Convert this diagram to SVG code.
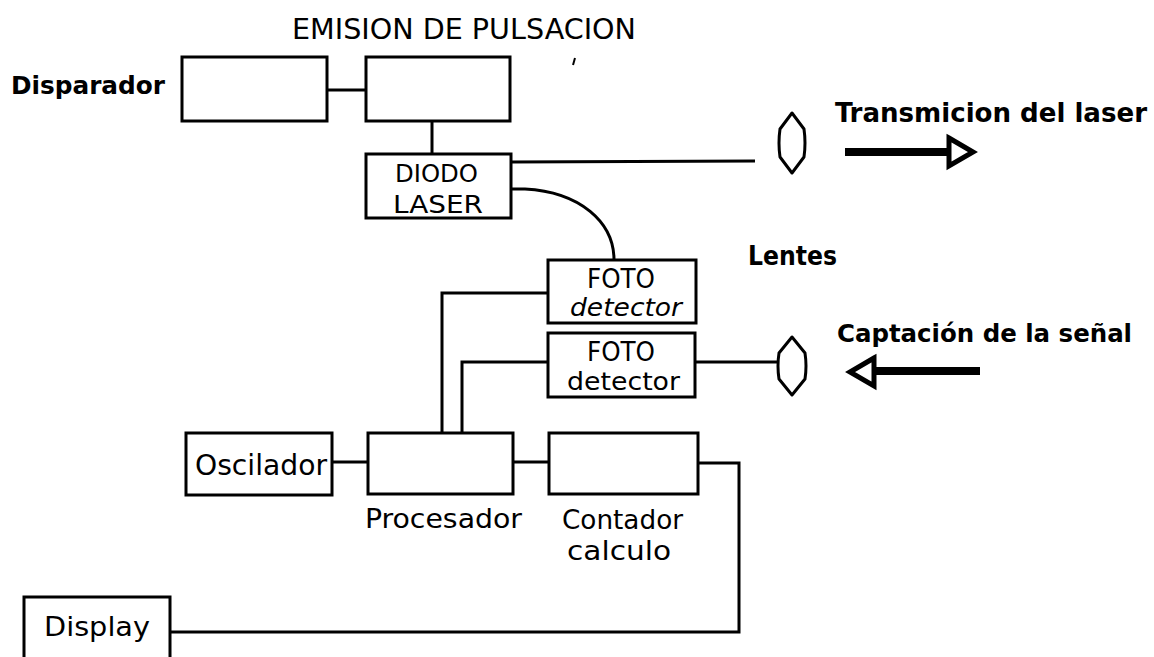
<svg xmlns="http://www.w3.org/2000/svg" width="1154" height="657" viewBox="0 0 1154 657">
<style>
.box{fill:#fff;stroke:#000;stroke-width:3}
.ln{fill:none;stroke:#000;stroke-width:3}
.t{font-family:"DejaVu Sans Condensed","DejaVu Sans",sans-serif;fill:#000}
.b{font-weight:bold}
.lens{fill:#fff;stroke:#000;stroke-width:3;stroke-linejoin:round}
.head{fill:#fff;stroke:#000;stroke-width:5;stroke-linejoin:miter}
</style>
<rect width="1154" height="657" fill="#fff"/>
<text class="t" x="292" y="39" font-size="28" textLength="344" lengthAdjust="spacingAndGlyphs">EMISION DE PULSACION</text>
<line x1="575" y1="58" x2="573" y2="65" stroke="#000" stroke-width="2"/>
<g id="connectors">
<line class="ln" x1="327" y1="90" x2="366" y2="90"/>
<line class="ln" x1="432" y1="121" x2="432" y2="154"/>
<line class="ln" x1="511" y1="162" x2="755" y2="161"/>
<path class="ln" d="M511 189 L525 189 C580 192 614 222 614 260"/>
<polyline class="ln" points="548,293 442,293 442,433"/>
<polyline class="ln" points="548,362 462,362 462,433"/>
<line class="ln" x1="695" y1="362" x2="777" y2="362"/>
<line class="ln" x1="332" y1="462" x2="368" y2="462"/>
<line class="ln" x1="513" y1="462" x2="549" y2="462"/>
<polyline class="ln" points="698,463 739,463 739,632 170,632"/>
</g>
<g id="disparador">
<rect class="box" x="182" y="57" width="145" height="64"/>
<text class="t b" x="11" y="94" font-size="24" textLength="154" lengthAdjust="spacingAndGlyphs">Disparador</text>
</g>
<g id="emision">
<rect class="box" x="366" y="57" width="144" height="64"/>
</g>
<g id="diodo-laser">
<rect class="box" x="366" y="154" width="145" height="64"/>
<text class="t" x="395" y="182" font-size="25" textLength="83" lengthAdjust="spacingAndGlyphs">DIODO</text>
<text class="t" x="393" y="213" font-size="25" textLength="90" lengthAdjust="spacingAndGlyphs">LASER</text>
</g>
<g id="lente-tx">
<path class="lens" d="M792 113 L804 129 Q806 143 804 157 L792 173 L780 157 Q778 143 780 129 Z"/>
</g>
<g id="lente-rx">
<path class="lens" d="M792 337 L805 353 Q807 366 805 379 L792 395 L779 379 Q777 366 779 353 Z"/>
</g>
<g id="transmicion">
<text class="t b" x="835" y="122" font-size="26" textLength="312" lengthAdjust="spacingAndGlyphs">Transmicion del laser</text>
<rect x="845" y="148" width="104" height="8" fill="#000"/>
<polygon class="head" points="949,138 973,152 949,166"/>
</g>
<g id="lentes">
<text class="t b" x="748" y="265" font-size="27" textLength="89" lengthAdjust="spacingAndGlyphs">Lentes</text>
</g>
<g id="captacion">
<text class="t b" x="837" y="342" font-size="25" textLength="295" lengthAdjust="spacingAndGlyphs">Captación de la señal</text>
<rect x="874" y="367" width="106" height="8" fill="#000"/>
<polygon class="head" points="874,358 850,372 874,386"/>
</g>
<g id="foto1">
<rect class="box" x="548" y="260" width="148" height="63"/>
<text class="t" x="587" y="288" font-size="26" textLength="68" lengthAdjust="spacingAndGlyphs">FOTO</text>
<text class="t" x="570" y="316" font-size="25" font-style="italic" textLength="112" lengthAdjust="spacingAndGlyphs">detector</text>
</g>
<g id="foto2">
<rect class="box" x="548" y="333" width="147" height="64"/>
<text class="t" x="587" y="361" font-size="26" textLength="68" lengthAdjust="spacingAndGlyphs">FOTO</text>
<text class="t" x="567" y="390" font-size="25" textLength="113" lengthAdjust="spacingAndGlyphs">detector</text>
</g>
<g id="oscilador">
<rect class="box" x="186" y="433" width="146" height="62"/>
<text class="t" x="195" y="475" font-size="29" textLength="132" lengthAdjust="spacingAndGlyphs">Oscilador</text>
</g>
<g id="procesador">
<rect class="box" x="368" y="433" width="145" height="61"/>
<text class="t" x="365" y="528" font-size="27" textLength="157" lengthAdjust="spacingAndGlyphs">Procesador</text>
</g>
<g id="contador">
<rect class="box" x="549" y="433" width="149" height="61"/>
<text class="t" x="562" y="529" font-size="26" textLength="121" lengthAdjust="spacingAndGlyphs">Contador</text>
<text class="t" x="567" y="560" font-size="26" textLength="104" lengthAdjust="spacingAndGlyphs">calculo</text>
</g>
<g id="display">
<rect class="box" x="24" y="597" width="146" height="70"/>
<text class="t" x="44" y="636" font-size="27" textLength="106" lengthAdjust="spacingAndGlyphs">Display</text>
</g>
</svg>
